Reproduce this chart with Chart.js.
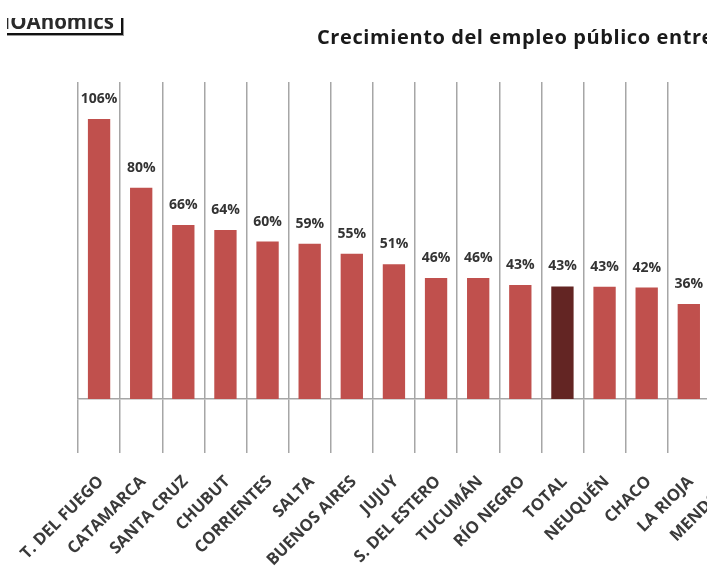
<!DOCTYPE html>
<html>
<head>
<meta charset="utf-8">
<script src="https://cdn.jsdelivr.net/npm/chart.js@4.4.0/dist/chart.umd.min.js"></script>
<style>
  html, body { margin: 0; padding: 0; background: #fff; overflow: hidden; width: 707px; height: 575px; }
  .logo-clip { position: absolute; left: 7px; top: 18px; width: 117px; height: 18px; overflow: hidden; }
  .logo { position: absolute; right: 1px; bottom: 1px; padding: 0 7px 0 30px; border: 2px solid #111;
          box-shadow: 1px 1px 0 #999; font: bold 20.5px "Open Sans", sans-serif; color: #2a2a2a; line-height: 24px; background: #fff; }
  .titulo { position: absolute; left: 317px; top: 23px; white-space: nowrap; letter-spacing: 0.6px;
            font: bold 20px "Open Sans", sans-serif; color: #1a1a1a; }
  .wrap { position: absolute; left: 0; top: 0; width: 752px; height: 575px; }
</style>
</head>
<body>
<div class="wrap"><canvas id="grafico"></canvas></div>
<div class="logo-clip"><div class="logo">NOAnomics</div></div>
<div class="titulo">Crecimiento del empleo público entre</div>
<script>
/*----- datos -----*/
var provincias = ['T. DEL FUEGO', 'CATAMARCA', 'SANTA CRUZ', 'CHUBUT', 'CORRIENTES', 'SALTA',
    'BUENOS AIRES', 'JUJUY', 'S. DEL ESTERO', 'TUCUMÁN', 'RÍO NEGRO', 'TOTAL', 'NEUQUÉN',
    'CHACO', 'LA RIOJA', 'MENDOZA'];
var crecimiento = [106, 80, 65.9, 64, 59.6, 58.8, 55, 51, 45.8, 45.8, 43.2, 42.6, 42.5, 42.2, 36, 35];

var colorProv = '#c0504d',
    colorTotal = '#632523',
    colorGrilla = '#a6a6a6';

var colores = provincias.map(function(p) {
    return p === 'TOTAL' ? colorTotal : colorProv;
});

/*----- etiquetas de porcentaje sobre las barras -----*/
var etiquetas = {
    id: 'etiquetas',
    afterDatasetsDraw: function(chart) {
        var ctx = chart.ctx;
        var meta = chart.getDatasetMeta(0);
        ctx.save();
        ctx.font = 'bold 14px "Open Sans"';
        ctx.fillStyle = '#333';
        ctx.textAlign = 'center';
        ctx.textBaseline = 'middle';
        meta.data.forEach(function(bar, i) {
            ctx.fillText(Math.round(crecimiento[i]) + '%', bar.x, bar.y - 20);
        });
        ctx.restore();
    }
};

/*----- grafico -----*/
var ctx = document.getElementById('grafico').getContext('2d');
var grafico = new Chart(ctx, {
    type: 'bar',
    data: {
        labels: provincias,
        datasets: [{
            data: crecimiento,
            backgroundColor: colores,
            categoryPercentage: 1,
            barPercentage: 0.53
        }]
    },
    options: {
        responsive: true,
        maintainAspectRatio: false,
        animation: false,
        layout: { padding: { left: 78, top: 82, right: 0, bottom: 0 } },
        plugins: {
            legend: { display: false },
            tooltip: { enabled: false }
        },
        scales: {
            x: {
                grid: { offset: true, color: colorGrilla, lineWidth: 1.5, tickLength: 54 },
                border: { color: colorGrilla, width: 1.5 },
                ticks: {
                    autoSkip: false,
                    minRotation: 45,
                    maxRotation: 45,
                    padding: 19,
                    labelOffset: 2,
                    color: '#3a3a3a',
                    font: { family: 'Open Sans', size: 16.5, weight: 'bold' }
                },
                afterFit: function(s) {
                    s.height = 176;
                    s.paddingLeft = 0;
                    s.paddingRight = 0;
                }
            },
            y: { display: false, min: 0, max: 120 }
        }
    },
    plugins: [etiquetas]
});
</script>
</body>
</html>
